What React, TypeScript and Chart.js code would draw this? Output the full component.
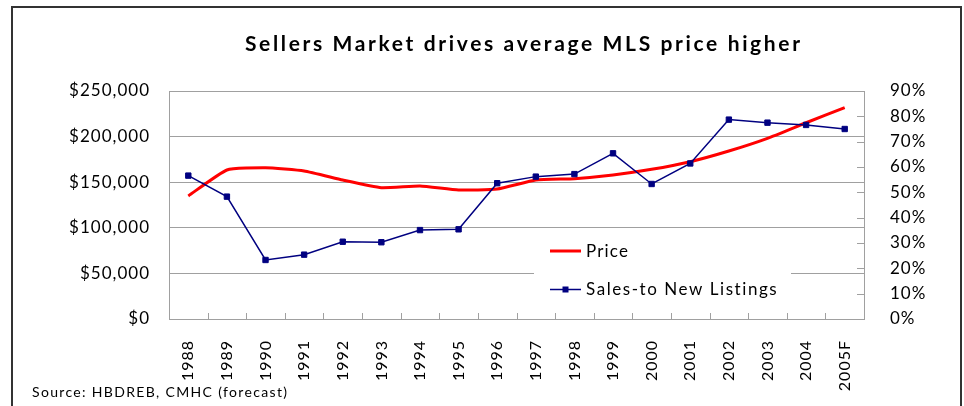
import React, { useEffect, useRef } from 'react';
import { Chart, registerables } from 'chart.js';

Chart.register(...registerables);

const years = ['1988', '1989', '1990', '1991', '1992', '1993', '1994', '1995', '1996', '1997', '1998', '1999', '2000', '2001', '2002', '2003', '2004', '2005F'];
const price = [135000, 163400, 165900, 162300, 152400, 144000, 145800, 141400, 142500, 152400, 153900, 157900, 164100, 172500, 184200, 198100, 215200, 231700];
const salesToNewListings = [56.6, 48.3, 23.3, 25.4, 30.5, 30.3, 35.1, 35.4, 53.6, 56.2, 57.2, 65.4, 53.3, 61.4, 78.7, 77.5, 76.6, 75.0];
const priceAxisMax = 250000;
const priceAxisStep = 50000;
const pctAxisMax = 90;
const pctAxisStep = 10;
const seriesNames = ['Price', 'Sales-to New Listings'];
const titleText = 'Sellers Market drives average MLS price higher';
const sourceText = 'Source: HBDREB, CMHC (forecast)';

const FONT = 'Lato, "Noto Sans", sans-serif';
const GRID = '#a0a0a0';

function drawFitted(ctx: CanvasRenderingContext2D, text: string, x: number, y: number, font: string, width: number) {
  ctx.save();
  ctx.font = font;
  (ctx as any).letterSpacing = '0px';
  const w = ctx.measureText(text).width;
  const ls = (width - w) / Math.max(1, text.length - 1);
  (ctx as any).letterSpacing = ls + 'px';
  ctx.textAlign = 'left';
  ctx.textBaseline = 'middle';
  ctx.fillStyle = '#000';
  ctx.fillText(text, x, y);
  ctx.restore();
}

const decorPlugin = {
  id: 'decor',
  beforeDraw(chart: any) {
    const ctx = chart.ctx as CanvasRenderingContext2D;
    ctx.save();
    ctx.fillStyle = '#fff';
    ctx.fillRect(0, 0, chart.width, chart.height);
    ctx.strokeStyle = '#333';
    ctx.lineWidth = 2;
    ctx.beginPath();
    ctx.moveTo(12, chart.height + 2);
    ctx.lineTo(12, 7);
    ctx.lineTo(961, 7);
    ctx.lineTo(961, chart.height + 2);
    ctx.stroke();
    ctx.restore();
    (ctx as any).letterSpacing = '1px';
  },
  afterDatasetsDraw(chart: any) {
    const ctx = chart.ctx as CanvasRenderingContext2D;
    const { right, bottom } = chart.chartArea;
    const xs = chart.scales.x;
    const y1 = chart.scales.y1;
    ctx.save();
    ctx.strokeStyle = GRID;
    ctx.lineWidth = 1;
    ctx.beginPath();
    const step = xs.getPixelForValue(1) - xs.getPixelForValue(0);
    for (let i = 0; i < years.length; i++) {
      const bx = Math.round(xs.getPixelForValue(i) + step / 2) + 0.5;
      if (bx < right - 2) {
        ctx.moveTo(bx, bottom);
        ctx.lineTo(bx, bottom - 6);
      }
    }
    for (let v = pctAxisStep; v < pctAxisMax; v += pctAxisStep) {
      const py = Math.round(y1.getPixelForValue(v)) + 0.5;
      ctx.moveTo(right, py);
      ctx.lineTo(right - 7, py);
    }
    ctx.stroke();
    ctx.restore();
  },
  afterDraw(chart: any) {
    const ctx = chart.ctx as CanvasRenderingContext2D;
    (ctx as any).letterSpacing = '0px';
    ctx.save();
    ctx.fillStyle = '#fff';
    ctx.fillRect(534, 237, 257, 68);
    const ds = chart.data.datasets;
    ctx.strokeStyle = ds[0].borderColor;
    ctx.lineWidth = 3;
    ctx.beginPath();
    ctx.moveTo(550, 251);
    ctx.lineTo(581, 251);
    ctx.stroke();
    ctx.strokeStyle = ds[1].borderColor;
    ctx.lineWidth = 1.5;
    ctx.beginPath();
    ctx.moveTo(550, 289.5);
    ctx.lineTo(581, 289.5);
    ctx.stroke();
    ctx.fillStyle = ds[1].pointBackgroundColor;
    ctx.fillRect(562.5, 286.5, 6, 6);
    ctx.restore();
    drawFitted(ctx, ds[0].label, 586, 252, `17px ${FONT}`, 42);
    drawFitted(ctx, ds[1].label, 586, 290, `17px ${FONT}`, 191);
    drawFitted(ctx, titleText, 245, 44, `bold 21px ${FONT}`, 555);
    drawFitted(ctx, sourceText, 32, 392, `14px ${FONT}`, 255);
  },
};

export default function App() {
  const ref = useRef<HTMLCanvasElement | null>(null);
  useEffect(() => {
    if (!ref.current) return;
    const chart = new Chart(ref.current, {
      type: 'line',
      data: {
        labels: years,
        datasets: [
          {
            label: seriesNames[0],
            data: price,
            yAxisID: 'y',
            borderColor: '#ff0000',
            backgroundColor: '#ff0000',
            borderWidth: 3,
            pointRadius: 0,
            tension: 0.15,
            order: 2,
          },
          {
            label: seriesNames[1],
            data: salesToNewListings,
            yAxisID: 'y1',
            borderColor: '#000080',
            backgroundColor: '#000080',
            pointBackgroundColor: '#000080',
            pointBorderColor: '#000080',
            borderWidth: 1.5,
            pointStyle: 'rect',
            pointRadius: 3.8,
            pointBorderWidth: 1,
            tension: 0,
            order: 1,
          },
        ],
      },
      options: {
        responsive: false,
        animation: false,
        devicePixelRatio: 1,
        layout: { padding: { top: 91, left: 0, right: 0, bottom: 0 } },
        plugins: {
          legend: { display: false },
          title: { display: false },
          tooltip: { enabled: false },
        },
        scales: {
          x: {
            offset: true,
            grid: { display: false },
            border: { display: true, color: GRID, width: 1 },
            ticks: {
              autoSkip: false,
              minRotation: 90,
              maxRotation: 90,
              padding: 13,
              color: '#000',
              font: { family: FONT, size: 16 },
            },
            afterFit: (s: any) => {
              s.height = 87;
            },
          },
          y: {
            position: 'left',
            min: 0,
            max: priceAxisMax,
            grid: { color: GRID, lineWidth: 1, drawTicks: false },
            border: { display: true, color: GRID, width: 1 },
            ticks: {
              stepSize: priceAxisStep,
              padding: 19,
              color: '#000',
              font: { family: FONT, size: 17 },
              callback: (v: any) => '$' + Number(v).toLocaleString('en-US'),
            },
            afterFit: (s: any) => {
              s.width = 169;
            },
          },
          y1: {
            position: 'right',
            min: 0,
            max: pctAxisMax,
            grid: { display: false, drawOnChartArea: false },
            border: { display: true, color: GRID, width: 1 },
            ticks: {
              stepSize: pctAxisStep,
              padding: 18,
              color: '#000',
              font: { family: FONT, size: 17 },
              callback: (v: any) => Math.round(Number(v)) + '%',
            },
            afterFit: (s: any) => {
              s.width = 100;
            },
          },
        },
      },
      plugins: [decorPlugin],
    });
    return () => chart.destroy();
  }, []);
  return (
    <div style={{ position: 'absolute', left: 0, top: 0, width: 964, height: 406, background: '#fff' }}>
      <canvas ref={ref} width={964} height={406} style={{ display: 'block', width: 964, height: 406 }} />
    </div>
  );
}
